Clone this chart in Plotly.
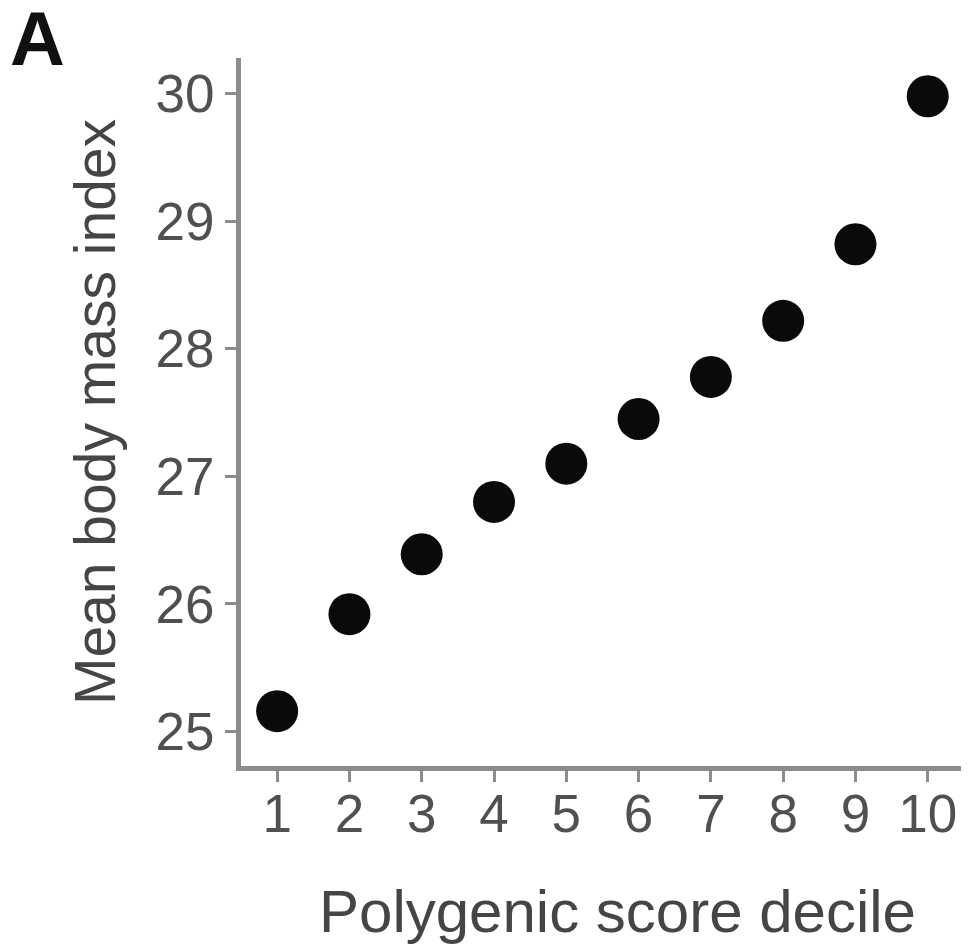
import plotly.graph_objects as go

deciles = [1, 2, 3, 4, 5, 6, 7, 8, 9, 10]
mean_bmi = [25.16, 25.92, 26.39, 26.80, 27.10, 27.45, 27.78, 28.22, 28.82, 29.98]
x_ticks = [1, 2, 3, 4, 5, 6, 7, 8, 9, 10]
y_ticks = [25, 26, 27, 28, 29, 30]

L, R, T, B = 233, 21, 50, 194
W, H = 974, 952
PW, PH = W - L - R, H - T - B

fig = go.Figure()
fig.add_trace(go.Scatter(
    x=deciles, y=mean_bmi, mode="markers",
    marker=dict(size=42, color="#0a0a0a", line=dict(width=0)),
    showlegend=False,
))

axis_common = dict(
    showline=True, linecolor="#8c8c8c", linewidth=5,
    ticks="outside", ticklen=11, tickwidth=3, tickcolor="#8c8c8c",
    showgrid=False, zeroline=False,
    tickfont=dict(family="Liberation Sans, Arial", size=53, color="#505050"),
)

fig.update_layout(
    width=W, height=H,
    margin=dict(l=L, r=R, t=T, b=B),
    paper_bgcolor="white", plot_bgcolor="white",
    title=dict(
        text="<b>A</b>", x=2 / W, xanchor="left", xref="container",
        y=1 - 4 / H, yanchor="top", yref="container",
        font=dict(family="Liberation Sans, Arial", size=76, color="#111111"),
    ),
    xaxis=dict(
        range=[0.5, 10.46], tickvals=x_ticks, ticktext=[str(t) for t in x_ticks],
        ticklabelstandoff=-14,
        **axis_common,
    ),
    yaxis=dict(
        range=[24.73, 30.28], tickvals=y_ticks, ticktext=[str(t) for t in y_ticks],
        title=dict(text="Mean body mass index", standoff=23,
                   font=dict(family="Liberation Sans, Arial", size=57, color="#454545")),
        **axis_common,
    ),
    annotations=[
        dict(
            text="Polygenic score decile", x=(609 - L) / PW, y=-(903 - T - PH) / PH,
            xref="paper", yref="paper", xanchor="center", yanchor="middle",
            showarrow=False,
            font=dict(family="Liberation Sans, Arial", size=60, color="#454545"),
        ),
    ],
)

fig.write_html("out.html")
